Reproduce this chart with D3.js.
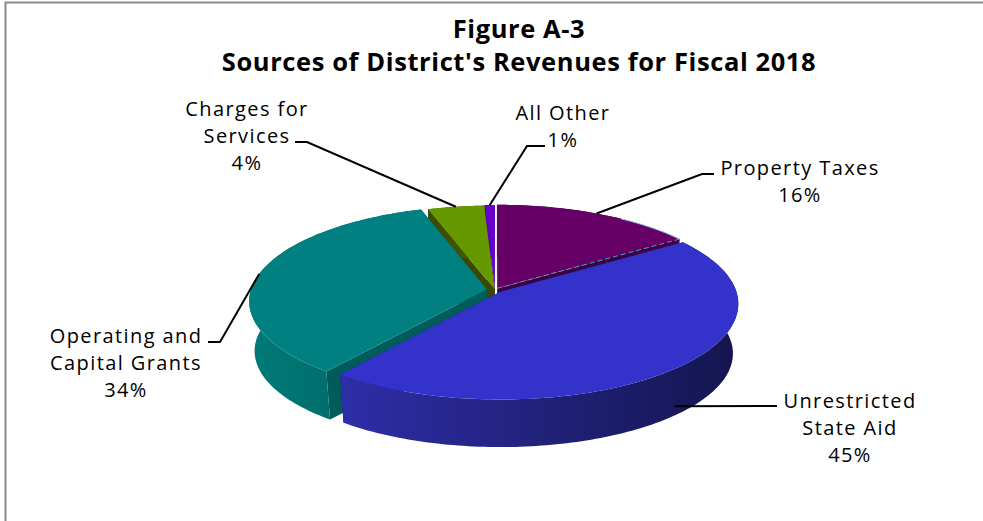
<!DOCTYPE html>
<html>
<head>
<meta charset="utf-8">
<script src="https://cdn.jsdelivr.net/npm/d3@7"></script>
<style>
  html, body { margin: 0; padding: 0; background: #fff; }
  svg { display: block; }
  text { font-family: "Open Sans", sans-serif; fill: #000; }
</style>
</head>
<body>
<div id="chart"></div>
<script>
// Chart data, estimated from the slices (the labels show them rounded)
const categories = ['Property Taxes', 'Unrestricted State Aid', 'Operating and Capital Grants', 'Charges for Services', 'All Other'];
const shares = [15.5, 45, 34.4, 4.3, 0.8];
const titleLines = ['Figure A-3', "Sources of District's Revenues for Fiscal 2018"];

// Styles, one entry per slice
const topColors = ['#660066', '#3333cc', '#008080', '#669900', '#6600cc'];
const rimColors = [['#44004a', '#33003a'], ['#2e2ea8', '#14154e'], ['#007a78', '#00615f'], ['#4a5c00', '#3a4a00'], ['#4a0090', '#3a0078']];
const cutColors = ['#3d0040', '#1c1c70', '#005c5a', '#3a4800', '#3a0078'];
const explode = [0.02, 0.03, 0.035, 0.008, 0.012];

// Label layout: centre x, first baseline, lines, then leader elbow and end
const labelLayout = [
  { x: 800, y: 175, lines: ['Property Taxes', '16%'], elbow: [702, 174], end: [714, 174], rimDrop: 0 },
  { x: 850, y: 408, lines: ['Unrestricted', 'State Aid', '45%'], elbow: [777, 406], end: [777, 406], rimDrop: 0.8 },
  { x: 126, y: 343, lines: ['Operating and', 'Capital Grants', '34%'], elbow: [220, 342], end: [208, 342], rimDrop: 0 },
  { x: 247, y: 116, lines: ['Charges for', 'Services', '4%'], elbow: [307, 142], end: [295, 142], rimDrop: 0 },
  { x: 563, y: 120, lines: ['All Other', '1%'], elbow: [527, 146], end: [545, 146], rimDrop: 0 }
];

const width = 983;
const height = 521;

const svg = d3.select('#chart')
  .append('svg')
  .attr('width', width)
  .attr('height', height)
  .attr('viewBox', `0 0 ${width} ${height}`);

// Frame, only top and left are in the picture
svg.append('path')
  .attr('d', `M${width},2.5H5.5V${height}`)
  .attr('fill', 'none')
  .attr('stroke', '#8a8a8a')
  .attr('stroke-width', 2);

// Title
svg.selectAll('text.title')
  .data(titleLines)
  .join('text')
  .attr('class', 'title')
  .attr('x', 519)
  .attr('y', (d, i) => 38 + i * 33)
  .attr('text-anchor', 'middle')
  .style('font-size', '25.5px')
  .style('font-weight', 'bold')
  .style('letter-spacing', '0.6px')
  .text(d => d);

// Pie geometry: a tilted disc with some perspective
const cx = 495;
const cy = 290;
const rx = 236;
const ry = 94;
const persp = 0.12;
const depth = 50;
const bottomShrink = 0.022;

function project(u, v, h) {
  const s = (1 - bottomShrink * h) / (1 + persp * v);
  return [cx + rx * u * s, cy - ry * v * s + depth * h];
}

const arcs = d3.pie().sort(null).value(d => d)(shares);

function slicePoint(i, angle, r, h) {
  const mid = (arcs[i].startAngle + arcs[i].endAngle) / 2;
  const u = r * Math.sin(angle) + explode[i] * Math.sin(mid);
  const v = r * Math.cos(angle) + explode[i] * Math.cos(mid);
  return project(u, v, h);
}

function arcAngles(d) {
  const n = Math.max(4, Math.ceil((d.endAngle - d.startAngle) / 0.02));
  return d3.range(n + 1).map(k => d.startAngle + (d.endAngle - d.startAngle) * k / n);
}

const line = d3.line();
const closed = pts => line(pts) + 'Z';

// Rim shading
const defs = svg.append('defs');
rimColors.forEach((c, i) => {
  const grad = defs.append('linearGradient').attr('id', `rim${i}`);
  grad.append('stop').attr('offset', '0%').attr('stop-color', c[1]);
  grad.append('stop').attr('offset', '100%').attr('stop-color', c[0]);
});
// Blue and teal run light to dark the other way round
d3.select('#rim1').attr('x1', '100%').attr('x2', '0%');
d3.select('#rim2').attr('x1', '100%').attr('x2', '0%');

// Back slices first
const drawOrder = [0, 4, 3, 2, 1];

drawOrder.forEach(i => {
  const d = arcs[i];
  const g = svg.append('g').attr('class', 'slice');
  const angles = arcAngles(d);

  // Cut faces
  [d.startAngle, d.endAngle].forEach(a => {
    g.append('path')
      .attr('d', closed([
        slicePoint(i, a, 0, 0),
        slicePoint(i, a, 1, 0),
        slicePoint(i, a, 1, 1),
        slicePoint(i, a, 0, 1)
      ]))
      .attr('fill', cutColors[i]);
  });

  // Outer rim
  const rimPts = angles.map(a => slicePoint(i, a, 1, 0))
    .concat(angles.slice().reverse().map(a => slicePoint(i, a, 1, 1)));
  g.append('path')
    .attr('d', closed(rimPts))
    .attr('fill', `url(#rim${i})`);

  // Top face
  const topPts = [slicePoint(i, 0, 0, 0)].concat(angles.map(a => slicePoint(i, a, 1, 0)));
  g.append('path')
    .attr('d', closed(topPts))
    .attr('fill', topColors[i]);

  // Pale cyan edge on the purple slice
  if (i === 0) {
    g.append('path')
      .attr('d', line([slicePoint(i, d.endAngle, 1, 0), slicePoint(i, 0, 0, 0)]))
      .attr('fill', 'none')
      .attr('stroke', '#35a9c4')
      .attr('stroke-width', 1)
      .attr('stroke-dasharray', '5,3');
    g.append('path')
      .attr('d', line(angles.filter(a => a > 0.6).map(a => slicePoint(i, a, 1, 0))))
      .attr('fill', 'none')
      .attr('stroke', '#9fdcf0')
      .attr('stroke-width', 1);
  }
});

// Leader lines start on the rim at the middle of each slice
labelLayout.forEach((l, i) => {
  const mid = (arcs[i].startAngle + arcs[i].endAngle) / 2;
  svg.append('path')
    .attr('d', line([slicePoint(i, mid, 1.0, l.rimDrop), l.elbow, l.end]))
    .attr('fill', 'none')
    .attr('stroke', '#000')
    .attr('stroke-width', 2);
});

// Data labels
labelLayout.forEach(l => {
  svg.append('g')
    .selectAll('text')
    .data(l.lines)
    .join('text')
    .attr('x', l.x)
    .attr('y', (d, i) => l.y + i * 27)
    .attr('text-anchor', 'middle')
    .style('font-size', '20px')
    .style('letter-spacing', '1.4px')
    .text(d => d);
});
</script>
</body>
</html>
